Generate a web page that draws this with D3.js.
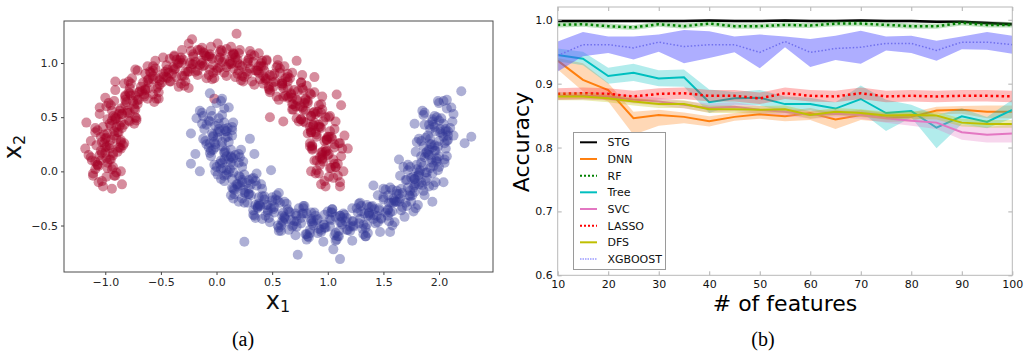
<!DOCTYPE html>
<html>
<head>
<meta charset="utf-8">
<script src="https://cdn.jsdelivr.net/npm/d3@7"></script>
<style>
  body { margin: 0; background: #fff; }
  svg { display: block; font-family: "DejaVu Sans", sans-serif; }
</style>
</head>
<body>
<svg id="svg" width="1031" height="351"></svg>
<script>
// ---- panel (a): two moons
const redPoints = [
  [-0.98,0.03],[-1.07,0.06],[-0.91,-0.04],[-1.03,-0.09],[-0.95,0.11],[-1.11,-0.02],
  [-1.04,0.10],[-0.93,0.17],[-1.09,0.02],[-0.90,-0.01],[-1.00,0.22],[-1.13,0.13],
  [-0.93,0.15],[-1.01,0.26],[-0.87,0.22],[-1.07,0.06],[-0.96,0.11],[-1.04,0.19],
  [-0.95,0.29],[-1.04,0.32],[-0.88,0.22],[-1.00,0.17],[-0.92,0.37],[-1.08,0.24],
  [-0.98,0.35],[-0.87,0.42],[-1.03,0.27],[-0.84,0.24],[-0.94,0.47],[-1.07,0.38],
  [-0.85,0.40],[-0.93,0.51],[-0.79,0.47],[-0.99,0.31],[-0.88,0.36],[-0.96,0.44],
  [-0.85,0.53],[-0.94,0.56],[-0.78,0.46],[-0.90,0.41],[-0.82,0.61],[-0.98,0.48],
  [-0.86,0.58],[-0.75,0.65],[-0.91,0.50],[-0.72,0.47],[-0.82,0.70],[-0.95,0.61],
  [-0.71,0.62],[-0.79,0.73],[-0.65,0.69],[-0.85,0.53],[-0.74,0.58],[-0.82,0.66],
  [-0.69,0.74],[-0.78,0.77],[-0.62,0.67],[-0.74,0.62],[-0.66,0.82],[-0.82,0.69],
  [-0.68,0.78],[-0.57,0.85],[-0.73,0.70],[-0.54,0.67],[-0.64,0.90],[-0.77,0.81],
  [-0.51,0.80],[-0.59,0.91],[-0.45,0.87],[-0.65,0.71],[-0.54,0.76],[-0.62,0.84],
  [-0.48,0.90],[-0.57,0.93],[-0.41,0.83],[-0.53,0.78],[-0.45,0.98],[-0.61,0.85],
  [-0.46,0.92],[-0.35,0.99],[-0.51,0.84],[-0.32,0.81],[-0.42,1.04],[-0.55,0.95],
  [-0.28,0.92],[-0.36,1.03],[-0.22,0.99],[-0.42,0.83],[-0.31,0.88],[-0.39,0.96],
  [-0.24,1.00],[-0.33,1.03],[-0.17,0.93],[-0.29,0.88],[-0.21,1.08],[-0.37,0.95],
  [-0.21,0.99],[-0.10,1.07],[-0.26,0.92],[-0.07,0.89],[-0.17,1.12],[-0.30,1.03],
  [-0.03,0.98],[-0.11,1.09],[0.03,1.05],[-0.17,0.89],[-0.06,0.94],[-0.14,1.02],
  [0.02,1.03],[-0.07,1.06],[0.09,0.96],[-0.03,0.91],[0.05,1.11],[-0.11,0.98],
  [0.05,1.01],[0.16,1.08],[0.00,0.93],[0.19,0.90],[0.09,1.13],[-0.04,1.04],
  [0.23,0.97],[0.15,1.08],[0.29,1.04],[0.09,0.88],[0.20,0.93],[0.12,1.01],
  [0.28,1.00],[0.19,1.03],[0.35,0.93],[0.23,0.88],[0.31,1.08],[0.15,0.95],
  [0.30,0.95],[0.41,1.02],[0.25,0.87],[0.44,0.84],[0.34,1.07],[0.21,0.98],
  [0.48,0.89],[0.40,1.00],[0.54,0.96],[0.34,0.80],[0.45,0.85],[0.37,0.93],
  [0.52,0.90],[0.43,0.93],[0.59,0.83],[0.47,0.78],[0.55,0.98],[0.39,0.85],
  [0.53,0.83],[0.64,0.90],[0.48,0.75],[0.67,0.72],[0.57,0.95],[0.44,0.86],
  [0.70,0.75],[0.62,0.86],[0.76,0.82],[0.56,0.66],[0.67,0.71],[0.59,0.79],
  [0.73,0.74],[0.64,0.77],[0.80,0.67],[0.68,0.62],[0.76,0.82],[0.60,0.69],
  [0.73,0.65],[0.84,0.72],[0.68,0.57],[0.87,0.54],[0.77,0.77],[0.64,0.68],
  [0.88,0.55],[0.80,0.66],[0.94,0.62],[0.74,0.46],[0.85,0.51],[0.77,0.59],
  [0.89,0.53],[0.80,0.56],[0.96,0.46],[0.84,0.41],[0.92,0.61],[0.76,0.48],
  [0.87,0.43],[0.98,0.50],[0.82,0.35],[1.01,0.32],[0.91,0.55],[0.78,0.46],
  [1.00,0.32],[0.92,0.43],[1.06,0.39],[0.86,0.23],[0.97,0.28],[0.89,0.36],
  [0.99,0.29],[0.90,0.32],[1.06,0.22],[0.94,0.17],[1.02,0.37],[0.86,0.24],
  [0.95,0.18],[1.06,0.25],[0.90,0.10],[1.09,0.07],[0.99,0.30],[0.86,0.21],
  [1.06,0.07],[0.98,0.18],[1.12,0.14],[0.92,-0.02],[1.03,0.03],[0.95,0.11],
  [1.02,0.03],[0.93,0.06],[1.09,-0.04],[0.97,-0.09],[1.05,0.11],[0.89,-0.02],
  // second pass along the arc
  [-0.99,-0.05],[-1.05,0.15],[-0.86,0.00],[-1.12,0.10],[-0.93,0.04],[-1.02,-0.14],
  [-1.06,0.05],[-0.96,0.24],[-1.15,0.15],[-0.89,0.18],[-0.98,0.08],[-0.92,-0.04],
  [-0.99,0.23],[-1.09,0.09],[-0.94,0.02],[-0.86,0.29],[-1.03,0.17],[-1.13,0.28],
  [-0.96,0.21],[-1.02,0.41],[-0.83,0.26],[-1.09,0.36],[-0.90,0.30],[-0.99,0.12],
  [-1.00,0.30],[-0.90,0.49],[-1.09,0.40],[-0.83,0.43],[-0.92,0.33],[-0.86,0.21],
  [-0.91,0.48],[-1.01,0.34],[-0.86,0.27],[-0.78,0.54],[-0.95,0.42],[-1.05,0.53],
  [-0.86,0.45],[-0.92,0.65],[-0.73,0.50],[-0.99,0.60],[-0.80,0.54],[-0.89,0.36],
  [-0.88,0.53],[-0.78,0.72],[-0.97,0.63],[-0.71,0.66],[-0.80,0.56],[-0.74,0.44],
  [-0.77,0.70],[-0.87,0.56],[-0.72,0.49],[-0.64,0.76],[-0.81,0.64],[-0.91,0.75],
  [-0.70,0.66],[-0.76,0.86],[-0.57,0.71],[-0.83,0.81],[-0.64,0.75],[-0.73,0.57],
  [-0.70,0.73],[-0.60,0.92],[-0.79,0.83],[-0.53,0.86],[-0.62,0.76],[-0.56,0.64],
  [-0.57,0.88],[-0.67,0.74],[-0.52,0.67],[-0.44,0.94],[-0.61,0.82],[-0.71,0.93],
  [-0.49,0.82],[-0.55,1.02],[-0.36,0.87],[-0.62,0.97],[-0.43,0.91],[-0.52,0.73],
  [-0.48,0.87],[-0.38,1.06],[-0.57,0.97],[-0.31,1.00],[-0.40,0.90],[-0.34,0.78],
  [-0.34,1.00],[-0.44,0.86],[-0.29,0.79],[-0.21,1.06],[-0.38,0.94],[-0.48,1.05],
  [-0.25,0.92],[-0.31,1.12],[-0.12,0.97],[-0.38,1.07],[-0.19,1.01],[-0.28,0.83],
  [-0.23,0.95],[-0.13,1.14],[-0.32,1.05],[-0.06,1.08],[-0.15,0.98],[-0.09,0.86],
  [-0.09,1.06],[-0.19,0.92],[-0.04,0.85],[0.04,1.12],[-0.13,1.00],[-0.23,1.11],
  [0.01,0.95],[-0.05,1.15],[0.14,1.00],[-0.12,1.10],[0.07,1.04],[-0.02,0.86],
  [0.03,0.96],[0.13,1.15],[-0.06,1.06],[0.20,1.09],[0.11,0.99],[0.17,0.87],
  [0.17,1.05],[0.07,0.91],[0.22,0.84],[0.30,1.11],[0.13,0.99],[0.03,1.10],
  [0.27,0.92],[0.21,1.12],[0.40,0.97],[0.14,1.07],[0.33,1.01],[0.24,0.83],
  [0.28,0.90],[0.38,1.09],[0.19,1.00],[0.45,1.03],[0.36,0.93],[0.42,0.81],
  [0.42,0.97],[0.32,0.83],[0.47,0.76],[0.55,1.03],[0.38,0.91],[0.28,1.02],
  [0.51,0.82],[0.45,1.02],[0.64,0.87],[0.38,0.97],[0.57,0.91],[0.48,0.73],
  [0.51,0.78],[0.61,0.97],[0.42,0.88],[0.68,0.91],[0.59,0.81],[0.65,0.69],
  [0.64,0.83],[0.54,0.69],[0.69,0.62],[0.77,0.89],[0.60,0.77],[0.50,0.88],
  [0.72,0.66],[0.66,0.86],[0.85,0.71],[0.59,0.81],[0.78,0.75],[0.69,0.57],
  [0.71,0.60],[0.81,0.79],[0.62,0.70],[0.88,0.73],[0.79,0.63],[0.85,0.51],
  [0.82,0.63],[0.72,0.49],[0.87,0.42],[0.95,0.69],[0.78,0.57],[0.68,0.68],
  [0.88,0.45],[0.82,0.65],[1.01,0.50],[0.75,0.60],[0.94,0.54],[0.85,0.36],
  [0.85,0.38],[0.95,0.57],[0.76,0.48],[1.02,0.51],[0.93,0.41],[0.99,0.29],
  [0.94,0.40],[0.84,0.26],[0.99,0.19],[1.07,0.46],[0.90,0.34],[0.80,0.45],
  [0.98,0.21],[0.92,0.41],[1.11,0.26],[0.85,0.36],[1.04,0.30],[0.95,0.12],
  [0.93,0.13],[1.03,0.32],[0.84,0.23],[1.10,0.26],[1.01,0.16],[1.07,0.04],
  [1.00,0.15],[0.90,0.01],[1.05,-0.06],[1.13,0.21],[0.96,0.09],[0.86,0.20],
  [1.01,-0.05],[0.95,0.15],[1.14,0.00],[0.88,0.10],[1.07,0.04],[0.98,-0.14],
  // outliers
  [0.18,1.27],[-1.18,0.21],[-1.17,0.45],[-0.94,-0.16],[-0.85,-0.12],[-1.06,-0.10],
  [-1.11,-0.04],[-1.05,0.59],[-1.00,0.68],[-0.91,0.83],[-0.73,0.94],[-0.25,1.18],
  [-0.22,1.22],[0.01,1.18],[0.72,1.02],[0.88,0.87],[1.08,0.71],[1.12,0.61],
  [0.48,0.50],[0.60,0.46],[0.94,-0.12],[1.11,-0.10],[1.11,-0.14],[1.18,0.21],
  [1.15,0.33],[0.85,0.00],[-0.25,0.77],[-0.02,0.67],[0.15,1.09],[-0.15,1.12]
];
const bluePoints = [
  [1.96,0.51],[2.07,0.58],[1.91,0.43],[2.10,0.40],[2.00,0.63],[1.87,0.54],
  [2.06,0.39],[1.98,0.50],[2.12,0.46],[1.92,0.30],[2.03,0.35],[1.95,0.43],
  [2.01,0.36],[1.92,0.39],[2.08,0.29],[1.96,0.24],[2.04,0.44],[1.88,0.31],
  [1.93,0.25],[2.04,0.32],[1.88,0.17],[2.07,0.14],[1.97,0.37],[1.84,0.28],
  [2.00,0.14],[1.92,0.25],[2.06,0.21],[1.86,0.05],[1.97,0.10],[1.89,0.18],
  [1.93,0.11],[1.84,0.14],[2.00,0.04],[1.88,-0.01],[1.96,0.19],[1.80,0.06],
  [1.83,0.01],[1.94,0.08],[1.78,-0.07],[1.97,-0.10],[1.87,0.13],[1.74,0.04],
  [1.88,-0.09],[1.80,0.02],[1.94,-0.02],[1.74,-0.18],[1.85,-0.13],[1.77,-0.05],
  [1.79,-0.11],[1.70,-0.08],[1.86,-0.18],[1.74,-0.23],[1.82,-0.03],[1.66,-0.16],
  [1.67,-0.20],[1.78,-0.13],[1.62,-0.28],[1.81,-0.31],[1.71,-0.08],[1.58,-0.17],
  [1.70,-0.29],[1.62,-0.18],[1.76,-0.22],[1.56,-0.38],[1.67,-0.33],[1.59,-0.25],
  [1.59,-0.29],[1.50,-0.26],[1.66,-0.36],[1.54,-0.41],[1.62,-0.21],[1.46,-0.34],
  [1.46,-0.36],[1.57,-0.29],[1.41,-0.44],[1.60,-0.47],[1.50,-0.24],[1.37,-0.33],
  [1.48,-0.43],[1.40,-0.32],[1.54,-0.36],[1.34,-0.52],[1.45,-0.47],[1.37,-0.39],
  [1.36,-0.41],[1.27,-0.38],[1.43,-0.48],[1.31,-0.53],[1.39,-0.33],[1.23,-0.46],
  [1.22,-0.46],[1.33,-0.39],[1.17,-0.54],[1.36,-0.57],[1.26,-0.34],[1.13,-0.43],
  [1.23,-0.51],[1.15,-0.40],[1.29,-0.44],[1.09,-0.60],[1.20,-0.55],[1.12,-0.47],
  [1.11,-0.47],[1.02,-0.44],[1.18,-0.54],[1.06,-0.59],[1.14,-0.39],[0.98,-0.52],
  [0.96,-0.49],[1.07,-0.42],[0.91,-0.57],[1.10,-0.60],[1.00,-0.37],[0.87,-0.46],
  [0.97,-0.52],[0.89,-0.41],[1.03,-0.45],[0.83,-0.61],[0.94,-0.56],[0.86,-0.48],
  [0.85,-0.46],[0.76,-0.43],[0.92,-0.53],[0.80,-0.58],[0.88,-0.38],[0.72,-0.51],
  [0.70,-0.46],[0.81,-0.39],[0.65,-0.54],[0.84,-0.57],[0.74,-0.34],[0.61,-0.43],
  [0.72,-0.46],[0.64,-0.35],[0.78,-0.39],[0.58,-0.55],[0.69,-0.50],[0.61,-0.42],
  [0.60,-0.38],[0.51,-0.35],[0.67,-0.45],[0.55,-0.50],[0.63,-0.30],[0.47,-0.43],
  [0.46,-0.36],[0.57,-0.29],[0.41,-0.44],[0.60,-0.47],[0.50,-0.24],[0.37,-0.33],
  [0.49,-0.34],[0.41,-0.23],[0.55,-0.27],[0.35,-0.43],[0.46,-0.38],[0.38,-0.30],
  [0.38,-0.24],[0.29,-0.21],[0.45,-0.31],[0.33,-0.36],[0.41,-0.16],[0.25,-0.29],
  [0.25,-0.20],[0.36,-0.13],[0.20,-0.28],[0.39,-0.31],[0.29,-0.08],[0.16,-0.17],
  [0.29,-0.16],[0.21,-0.05],[0.35,-0.09],[0.15,-0.25],[0.26,-0.20],[0.18,-0.12],
  [0.20,-0.04],[0.11,-0.01],[0.27,-0.11],[0.15,-0.16],[0.23,0.04],[0.07,-0.09],
  [0.09,0.01],[0.20,0.08],[0.04,-0.07],[0.23,-0.10],[0.13,0.13],[0.00,0.04],
  [0.15,0.06],[0.07,0.17],[0.21,0.13],[0.01,-0.03],[0.12,0.02],[0.04,0.10],
  [0.08,0.19],[-0.01,0.22],[0.15,0.12],[0.03,0.07],[0.11,0.27],[-0.05,0.14],
  [-0.01,0.25],[0.10,0.32],[-0.06,0.17],[0.13,0.14],[0.03,0.37],[-0.10,0.28],
  [0.08,0.31],[-0.01,0.42],[0.14,0.38],[-0.07,0.22],[0.05,0.27],[-0.04,0.35],
  [0.02,0.44],[-0.07,0.47],[0.09,0.37],[-0.03,0.32],[0.05,0.52],[-0.11,0.39],
  [-0.04,0.51],[0.07,0.58],[-0.09,0.43],[0.10,0.40],[0.00,0.63],[-0.13,0.54],
  // second pass along the arc
  [1.94,0.46],[2.04,0.65],[1.85,0.56],[2.11,0.59],[2.02,0.49],[2.08,0.37],
  [2.00,0.47],[1.90,0.33],[2.05,0.26],[2.13,0.53],[1.96,0.41],[1.86,0.52],
  [2.00,0.28],[1.94,0.48],[2.13,0.33],[1.87,0.43],[2.06,0.37],[1.97,0.19],
  [1.91,0.20],[2.01,0.39],[1.82,0.30],[2.08,0.33],[1.99,0.23],[2.05,0.11],
  [1.94,0.22],[1.84,0.08],[1.99,0.01],[2.07,0.28],[1.90,0.16],[1.80,0.27],
  [1.92,0.03],[1.86,0.23],[2.05,0.08],[1.79,0.18],[1.98,0.12],[1.89,-0.06],
  [1.81,-0.04],[1.91,0.15],[1.72,0.06],[1.98,0.09],[1.89,-0.01],[1.95,-0.13],
  [1.82,-0.01],[1.72,-0.15],[1.87,-0.22],[1.95,0.05],[1.78,-0.07],[1.68,0.04],
  [1.78,-0.19],[1.72,0.01],[1.91,-0.14],[1.65,-0.04],[1.84,-0.10],[1.75,-0.28],
  [1.65,-0.25],[1.75,-0.06],[1.56,-0.15],[1.82,-0.12],[1.73,-0.22],[1.79,-0.34],
  [1.64,-0.21],[1.54,-0.35],[1.69,-0.42],[1.77,-0.15],[1.60,-0.27],[1.50,-0.16],
  [1.58,-0.37],[1.52,-0.17],[1.71,-0.32],[1.45,-0.22],[1.64,-0.28],[1.55,-0.46],
  [1.44,-0.41],[1.54,-0.22],[1.35,-0.31],[1.61,-0.28],[1.52,-0.38],[1.58,-0.50],
  [1.42,-0.35],[1.32,-0.49],[1.47,-0.56],[1.55,-0.29],[1.38,-0.41],[1.28,-0.30],
  [1.35,-0.49],[1.29,-0.29],[1.48,-0.44],[1.22,-0.34],[1.41,-0.40],[1.32,-0.58],
  [1.20,-0.51],[1.30,-0.32],[1.11,-0.41],[1.37,-0.38],[1.28,-0.48],[1.34,-0.60],
  [1.17,-0.43],[1.07,-0.57],[1.22,-0.64],[1.30,-0.37],[1.13,-0.49],[1.03,-0.38],
  [1.10,-0.55],[1.04,-0.35],[1.23,-0.50],[0.97,-0.40],[1.16,-0.46],[1.07,-0.64],
  [0.94,-0.54],[1.04,-0.35],[0.85,-0.44],[1.11,-0.41],[1.02,-0.51],[1.08,-0.63],
  [0.91,-0.44],[0.81,-0.58],[0.96,-0.65],[1.04,-0.38],[0.87,-0.50],[0.77,-0.39],
  [0.84,-0.54],[0.78,-0.34],[0.97,-0.49],[0.71,-0.39],[0.90,-0.45],[0.81,-0.63],
  [0.68,-0.51],[0.78,-0.32],[0.59,-0.41],[0.85,-0.38],[0.76,-0.48],[0.82,-0.60],
  [0.66,-0.38],[0.56,-0.52],[0.71,-0.59],[0.79,-0.32],[0.62,-0.44],[0.52,-0.33],
  [0.59,-0.46],[0.53,-0.26],[0.72,-0.41],[0.46,-0.31],[0.65,-0.37],[0.56,-0.55],
  [0.44,-0.41],[0.54,-0.22],[0.35,-0.31],[0.61,-0.28],[0.52,-0.38],[0.58,-0.50],
  [0.43,-0.26],[0.33,-0.40],[0.48,-0.47],[0.56,-0.20],[0.39,-0.32],[0.29,-0.21],
  [0.37,-0.32],[0.31,-0.12],[0.50,-0.27],[0.24,-0.17],[0.43,-0.23],[0.34,-0.41],
  [0.23,-0.25],[0.33,-0.06],[0.14,-0.15],[0.40,-0.12],[0.31,-0.22],[0.37,-0.34],
  [0.23,-0.08],[0.13,-0.22],[0.28,-0.29],[0.36,-0.02],[0.19,-0.14],[0.09,-0.03],
  [0.19,-0.12],[0.13,0.08],[0.32,-0.07],[0.06,0.03],[0.25,-0.03],[0.16,-0.21],
  [0.07,-0.04],[0.17,0.15],[-0.02,0.06],[0.24,0.09],[0.15,-0.01],[0.21,-0.13],
  [0.09,0.14],[-0.01,0.00],[0.14,-0.07],[0.22,0.20],[0.05,0.08],[-0.05,0.19],
  [0.07,0.11],[0.01,0.31],[0.20,0.16],[-0.06,0.26],[0.13,0.20],[0.04,0.02],
  [-0.03,0.20],[0.07,0.39],[-0.12,0.30],[0.14,0.33],[0.05,0.23],[0.11,0.11],
  [0.02,0.39],[-0.09,0.25],[0.07,0.18],[0.15,0.45],[-0.03,0.33],[-0.13,0.44],
  [0.01,0.36],[-0.05,0.56],[0.14,0.41],[-0.12,0.51],[0.07,0.45],[-0.02,0.27],
  [-0.06,0.46],[0.04,0.65],[-0.15,0.56],[0.11,0.59],[0.02,0.49],[0.08,0.37],
  // outliers
  [2.20,0.74],[2.29,0.32],[2.23,0.26],[2.07,0.66],[1.99,0.65],[1.94,-0.28],
  [2.04,-0.10],[1.78,0.44],[1.64,0.11],[1.77,-0.37],[1.11,-0.81],[0.73,-0.77],
  [0.25,-0.65],[-0.23,0.35],[-0.23,0.07],[-0.15,0.00],[-0.19,0.16],[-0.06,0.72],
  [0.05,0.67],[-0.18,0.49],[0.30,0.30],[0.34,0.16],[0.49,0.01],[1.05,-0.72],
  [1.34,-0.60],[1.56,-0.56],[1.41,-0.13]
];
const xTicksA = [-1.0, -0.5, 0.0, 0.5, 1.0, 1.5, 2.0];
const yTicksA = [-0.5, 0.0, 0.5, 1.0];

// ---- panel (b): accuracy vs number of features
const features = [10,15,20,25,30,35,40,45,50,55,60,65,70,75,80,85,90,95,100];
const stgMean = [0.998,0.998,0.998,0.998,0.998,0.998,0.999,0.998,0.998,0.999,0.998,0.998,0.999,0.998,0.998,0.997,0.997,0.995,0.993];
const stgErr  = [0.002,0.002,0.002,0.002,0.002,0.002,0.002,0.002,0.002,0.002,0.002,0.002,0.002,0.002,0.002,0.002,0.002,0.003,0.003];
const dnnMean = [0.936,0.906,0.890,0.846,0.851,0.848,0.841,0.848,0.852,0.849,0.854,0.844,0.851,0.847,0.848,0.858,0.859,0.856,0.856];
const dnnHi   = [0.940,0.932,0.901,0.856,0.859,0.855,0.849,0.854,0.859,0.857,0.862,0.854,0.859,0.854,0.855,0.864,0.865,0.866,0.866];
const dnnLo   = [0.922,0.888,0.872,0.820,0.834,0.838,0.833,0.842,0.845,0.841,0.843,0.829,0.843,0.840,0.841,0.852,0.853,0.846,0.846];
const rfMean  = [0.992,0.993,0.990,0.988,0.993,0.990,0.994,0.990,0.990,0.992,0.991,0.994,0.994,0.992,0.990,0.990,0.995,0.992,0.992];
const rfErr   = [0.004,0.004,0.004,0.004,0.004,0.004,0.004,0.004,0.004,0.004,0.004,0.004,0.004,0.004,0.004,0.004,0.004,0.004,0.004];
const treeMean = [0.945,0.939,0.912,0.917,0.908,0.910,0.871,0.877,0.878,0.868,0.868,0.861,0.876,0.854,0.857,0.831,0.849,0.840,0.859];
const treeHi   = [0.955,0.950,0.925,0.931,0.921,0.922,0.891,0.887,0.890,0.880,0.878,0.871,0.897,0.875,0.867,0.851,0.861,0.848,0.875];
const treeLo   = [0.935,0.929,0.900,0.904,0.896,0.895,0.854,0.867,0.866,0.856,0.858,0.851,0.856,0.826,0.847,0.799,0.837,0.830,0.846];
const svcMean = [0.881,0.881,0.880,0.875,0.872,0.867,0.862,0.864,0.859,0.856,0.851,0.853,0.851,0.846,0.842,0.839,0.824,0.820,0.822];
const svcErr  = [0.006,0.006,0.006,0.006,0.006,0.006,0.007,0.007,0.006,0.006,0.006,0.006,0.006,0.007,0.008,0.010,0.012,0.012,0.014];
const lassoMean = [0.884,0.885,0.884,0.880,0.884,0.885,0.881,0.881,0.877,0.885,0.881,0.880,0.885,0.880,0.881,0.880,0.881,0.881,0.880];
const lassoErr  = [0.009,0.009,0.009,0.009,0.009,0.009,0.009,0.009,0.009,0.009,0.009,0.009,0.009,0.009,0.009,0.009,0.009,0.009,0.009];
const dfsMean = [0.880,0.880,0.877,0.872,0.868,0.868,0.860,0.860,0.859,0.860,0.851,0.856,0.854,0.850,0.851,0.850,0.839,0.837,0.837];
const dfsErr  = [0.006,0.006,0.006,0.006,0.006,0.006,0.006,0.006,0.006,0.006,0.006,0.006,0.006,0.006,0.006,0.006,0.006,0.006,0.006];
const xgbMean = [0.944,0.961,0.961,0.956,0.965,0.958,0.961,0.961,0.949,0.966,0.949,0.955,0.957,0.963,0.963,0.952,0.965,0.965,0.961];
const xgbHi   = [0.966,0.981,0.974,0.974,0.977,0.984,0.982,0.974,0.977,0.974,0.970,0.975,0.983,0.974,0.975,0.967,0.974,0.981,0.975];
const xgbLo   = [0.919,0.943,0.948,0.938,0.950,0.932,0.940,0.949,0.924,0.957,0.926,0.937,0.931,0.952,0.948,0.936,0.954,0.953,0.947];
const xTicksB = [10,20,30,40,50,60,70,80,90,100];
const yTicksB = [0.6,0.7,0.8,0.9,1.0];

const withErr = (m, e) => ({mean: m, lo: m.map((v, i) => v - e[i]), hi: m.map((v, i) => v + e[i])})
const series = [
  {name: "STG", color: "#000000", band: "#000000", bandOp: 0.25, width: 2.5, dash: null, ...withErr(stgMean, stgErr)},
  {name: "DNN", color: "#ff7f0e", band: "#ff7f0e", bandOp: 0.3, width: 2, dash: null, mean: dnnMean, lo: dnnLo, hi: dnnHi},
  {name: "RF", color: "#008000", band: "#2ca02c", bandOp: 0.3, width: 2.5, dash: "2.5,3", ...withErr(rfMean, rfErr)},
  {name: "Tree", color: "#00bfbf", band: "#00bfbf", bandOp: 0.3, width: 2, dash: null, mean: treeMean, lo: treeLo, hi: treeHi},
  {name: "SVC", color: "#e377c2", band: "#e377c2", bandOp: 0.3, width: 2, dash: null, ...withErr(svcMean, svcErr)},
  {name: "LASSO", color: "#ff0000", band: "#ff2020", bandOp: 0.3, width: 2.5, dash: "2.5,3", ...withErr(lassoMean, lassoErr)},
  {name: "DFS", color: "#bfbf00", band: "#bfbf00", bandOp: 0.3, width: 2, dash: null, ...withErr(dfsMean, dfsErr)},
  {name: "XGBOOST", color: "#7070ee", band: "#5555ff", bandOp: 0.48, width: 1.5, dash: "1.5,2", mean: xgbMean, lo: xgbLo, hi: xgbHi}
]

const svg = d3.select("#svg")

// ================= panel (a)
const xA = d3.scaleLinear().domain([-1.371, 2.485]).range([64, 493])
const yA = d3.scaleLinear().domain([-0.929, 1.388]).range([272, 21])

const gA = svg.append("g")
gA.append("clipPath").attr("id", "clipA").append("rect")
  .attr("x", 64).attr("y", 21).attr("width", 429).attr("height", 251)

const dots = gA.append("g").attr("clip-path", "url(#clipA)")
dots.selectAll("circle.red").data(redPoints).enter().append("circle")
  .attr("class", "red")
  .attr("cx", d => xA(d[0])).attr("cy", d => yA(d[1])).attr("r", 5)
  .attr("fill", "#a50026").attr("fill-opacity", 0.45)
dots.selectAll("circle.blue").data(bluePoints).enter().append("circle")
  .attr("class", "blue")
  .attr("cx", d => xA(d[0])).attr("cy", d => yA(d[1])).attr("r", 5)
  .attr("fill", "#313695").attr("fill-opacity", 0.4)

gA.append("g").attr("transform", "translate(0,272)")
  .call(d3.axisBottom(xA).tickValues(xTicksA).tickFormat(d3.format(".1f")).tickSize(3).tickPadding(3))
  .call(g => g.select(".domain").remove())
gA.append("g").attr("transform", "translate(64,0)")
  .call(d3.axisLeft(yA).tickValues(yTicksA).tickFormat(d3.format(".1f")).tickSize(3).tickPadding(3))
  .call(g => g.select(".domain").remove())
gA.selectAll(".tick text").attr("font-size", 11).attr("fill", "#262626").attr("font-family", "DejaVu Sans")
gA.selectAll(".tick line").attr("stroke", "#444")

gA.append("rect").attr("x", 64).attr("y", 21).attr("width", 429).attr("height", 251)
  .attr("fill", "none").attr("stroke", "#4d4d4d").attr("stroke-width", 1)

const xLab = gA.append("text").attr("x", 278).attr("y", 308.5).attr("text-anchor", "middle")
  .attr("font-size", 24).attr("fill", "#111")
xLab.append("tspan").text("x")
xLab.append("tspan").attr("font-size", 16).attr("dy", 3.5).text("1")

const yLab = gA.append("text").attr("transform", "translate(21,147) rotate(-90)").attr("text-anchor", "middle")
  .attr("font-size", 24).attr("fill", "#111")
yLab.append("tspan").text("x")
yLab.append("tspan").attr("font-size", 16).attr("dy", 4).text("2")

svg.append("text").attr("x", 243).attr("y", 346).attr("text-anchor", "middle")
  .attr("font-family", "Liberation Serif, Times New Roman, serif").attr("font-size", 20).text("(a)")

// ================= panel (b)
const xB = d3.scaleLinear().domain([10, 100]).range([557.7, 1012.3])
const yB = d3.scaleLinear().domain([0.6, 1.02]).range([275.3, 7])

const gB = svg.append("g")
gB.append("clipPath").attr("id", "clipB").append("rect")
  .attr("x", 557.7).attr("y", 7).attr("width", 454.6).attr("height", 268.3)

const plot = gB.append("g").attr("clip-path", "url(#clipB)")
const area = d3.area().x((d, i) => xB(features[i])).y0(d => yB(d[0])).y1(d => yB(d[1]))
const line = d3.line().x((d, i) => xB(features[i])).y(d => yB(d))

series.forEach(s => {
  plot.append("path")
    .datum(s.lo.map((v, i) => [v, s.hi[i]]))
    .attr("d", area)
    .attr("fill", s.band).attr("fill-opacity", s.bandOp)
  plot.append("path")
    .datum(s.mean)
    .attr("d", line)
    .attr("fill", "none").attr("stroke", s.color).attr("stroke-width", s.width)
    .attr("stroke-dasharray", s.dash)
})

const axB = gB.append("g").attr("class", "axB")
axB.append("g").attr("transform", "translate(0,275.3)")
  .call(d3.axisBottom(xB).tickValues(xTicksB).tickSize(-4).tickPadding(5))
axB.append("g").attr("transform", "translate(0,7)")
  .call(d3.axisTop(xB).tickValues(xTicksB).tickSize(-4).tickFormat(""))
axB.append("g").attr("transform", "translate(557.7,0)")
  .call(d3.axisLeft(yB).tickValues(yTicksB).tickFormat(d3.format(".1f")).tickSize(-4).tickPadding(5))
axB.append("g").attr("transform", "translate(1012.3,0)")
  .call(d3.axisRight(yB).tickValues(yTicksB).tickSize(-4).tickFormat(""))
axB.selectAll(".domain").remove()
axB.selectAll(".tick line").attr("stroke", "#b0b0b0")
axB.selectAll(".tick text").attr("font-size", 11).attr("fill", "#111").attr("font-family", "DejaVu Sans")

gB.append("rect").attr("x", 557.7).attr("y", 7).attr("width", 454.6).attr("height", 268.3)
  .attr("fill", "none").attr("stroke", "#b8b8b8").attr("stroke-width", 1)

// legend
const leg = gB.append("g")
leg.append("rect").attr("x", 573.5).attr("y", 132.5).attr("width", 92).attr("height", 137)
  .attr("fill", "#fff").attr("stroke", "#9a9a9a").attr("stroke-width", 1)
series.forEach((s, i) => {
  const y = 142.3 + i * 16.67
  leg.append("line").attr("x1", 580).attr("x2", 597).attr("y1", y).attr("y2", y)
    .attr("stroke", s.name === "XGBOOST" ? "#9a9aff" : s.color)
    .attr("stroke-width", s.name === "XGBOOST" ? 1.5 : 2)
    .attr("stroke-dasharray", s.dash ? (s.name === "XGBOOST" ? "1.5,1" : "2,2") : null)
  leg.append("text").attr("x", 607.5).attr("y", y + 4).attr("font-size", 11).attr("fill", "#111")
    .text(s.name)
})

gB.append("text").attr("x", 785).attr("y", 311).attr("text-anchor", "middle")
  .attr("font-size", 22).attr("fill", "#000").text("# of features")
gB.append("text").attr("transform", "translate(529,142) rotate(-90)").attr("text-anchor", "middle")
  .attr("font-size", 22).attr("fill", "#000").text("Accuracy")

svg.append("text").attr("x", 763).attr("y", 346).attr("text-anchor", "middle")
  .attr("font-family", "Liberation Serif, Times New Roman, serif").attr("font-size", 20).text("(b)")
</script>
</body>
</html>
